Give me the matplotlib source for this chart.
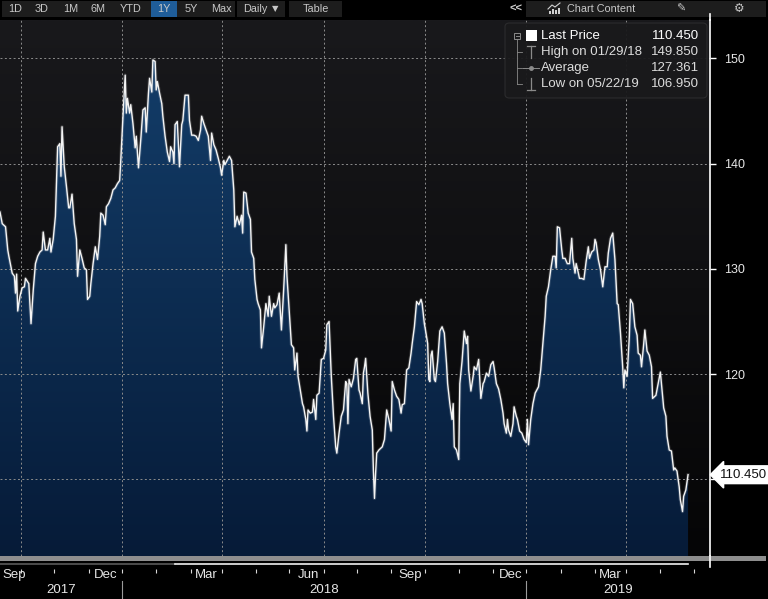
import numpy as np
import matplotlib
matplotlib.use("Agg")
import matplotlib.pyplot as plt
import matplotlib.dates as mdates
import matplotlib.transforms as mtransforms
from matplotlib.patches import Rectangle, FancyBboxPatch
from matplotlib.lines import Line2D
from matplotlib.colors import LinearSegmentedColormap
from matplotlib.ticker import FixedLocator

plt.rcParams['font.family'] = ['Liberation Sans', 'DejaVu Sans']

# ---------------- data ----------------
START = np.datetime64('2017-08-13')

day_offsets = [
    0, 2, 5, 7, 8, 11, 13, 14, 15, 16, 18, 20, 22, 23, 26, 28, 30, 32, 34, 36,
    38, 39, 41, 43, 45, 46, 48, 50, 52, 54, 55, 56, 58, 60, 62, 63, 65, 67, 69, 70,
    72, 74, 76, 78, 79, 81, 82, 84, 86, 88, 90, 91, 93, 95, 96, 98, 100, 102, 104, 106,
    108, 109, 111, 113, 114, 115, 117, 118, 120, 122, 123, 125, 127, 129, 131, 132, 134, 135, 137, 138,
    140, 141, 142, 144, 146, 147, 149, 151, 153, 154, 156, 157, 158, 160,
    162, 164, 165, 167, 170, 171, 173, 175, 177, 179, 181, 182, 184, 186, 188, 190, 191, 193, 195, 197,
    199, 200, 202, 203, 205, 207, 209, 211, 212, 214, 216, 218, 219, 220, 222, 224, 226, 227, 229, 230,
    232, 233, 235, 236, 238, 240, 242, 243, 245, 247, 248, 250, 252, 254, 256, 258, 259, 261, 263, 265,
    266, 268, 269, 271, 273, 274, 276, 277, 278, 280, 282, 283, 285, 286, 288, 290, 292, 294, 295, 297,
    299, 301, 303, 304, 306, 308, 310, 312, 313,
    314, 315, 317, 319, 321, 322, 324, 325, 327, 328, 329, 330, 332, 334, 336, 337, 338, 339, 340, 342,
    344, 345, 347, 349, 351, 353, 354, 356, 358, 360, 362, 363, 365, 367, 369, 371, 372, 374, 376, 378,
    380, 381, 383, 384, 386, 387, 388, 389, 390, 392, 393, 395, 397, 399, 401, 403, 404, 406, 408, 409,
    410, 412, 414, 415, 417, 419, 421, 422, 423, 425, 427, 428, 430, 432, 434, 436, 437, 439, 441, 443,
    445, 446, 448, 450, 452, 454, 455, 457, 458, 459, 461, 463, 464,
    466, 467, 469, 471, 473, 475, 476, 477, 479, 481, 483, 484, 486, 488, 490, 492, 493, 495, 497, 499,
    501, 502, 503, 505, 507, 508, 510, 512, 514, 516, 517, 519, 520, 522, 523, 525, 527, 529, 531, 532,
    534, 536, 537, 538, 540, 542, 544, 546, 548, 549, 551, 553, 555, 557, 558, 560, 562, 563, 564, 566,
    568, 569, 571, 573, 575, 576, 578, 579, 581, 582, 584, 586, 588, 589, 591, 592, 594, 596, 597, 599,
    601, 602, 604, 606, 608, 609, 611, 613, 614, 616, 617, 619, 621,
]

prices = [
    135.4, 134.3, 134.0, 131.8, 131.2, 129.6, 129.3, 127.7, 129.5, 126.0,
    127.4, 128.2, 128.3, 129.1, 128.6, 124.8, 128.0, 130.5, 131.2, 131.6,
    131.8, 133.5, 131.8, 131.8, 132.9, 131.6, 132.8, 135.0, 141.6, 141.9,
    138.8, 143.5, 139.7, 137.8, 135.8, 135.8, 137.1, 134.3, 132.8, 129.3,
    131.8, 131.0, 130.1, 129.9, 127.1, 127.4, 128.6, 130.5, 132.1, 130.9,
    133.1, 135.3, 135.1, 134.2, 135.9, 136.2, 136.7, 137.5, 137.7, 138.1,
    138.4, 140.3, 144.5, 148.4, 144.8, 146.2, 144.8, 145.6, 143.8, 141.5,
    142.6, 139.6, 142.2, 145.1, 145.3, 143.0, 146.7, 148.1, 146.8, 149.85,
    149.7, 147.0, 147.8, 146.7, 145.7, 144.5, 142.6, 141.1, 140.2, 141.6,
    141.1, 140.0, 143.7, 144.0,
    139.7, 143.7, 144.1, 146.5, 146.5, 144.1, 142.7, 142.7, 142.6, 142.2,
    143.2, 144.5, 143.8, 143.2, 142.6, 140.3, 142.9, 141.8, 141.3, 140.5,
    139.6, 138.9, 140.3, 139.9, 140.3, 140.7, 140.3, 137.5, 134.0, 135.0,
    134.2, 135.1, 133.4, 137.3, 137.2, 135.3, 134.7, 131.6, 131.0, 129.0,
    127.1, 126.7, 126.1, 122.5, 124.5, 126.7, 125.5, 127.4, 125.5, 126.7,
    126.3, 126.6, 127.7, 124.2, 128.0, 132.3, 129.3, 126.1, 122.8, 122.5,
    120.4, 122.0, 119.8, 118.5, 117.2, 116.9, 115.7, 114.6, 116.6, 116.3,
    116.4, 117.6, 115.7, 118.0, 118.2, 121.4, 121.5, 122.3, 124.7, 125.0,
    119.8, 116.0, 113.1, 112.5, 114.4, 116.0, 116.6, 119.3, 119.1,
    115.3, 119.5, 118.8, 119.6, 121.4, 121.5, 118.5, 118.2, 117.2, 120.1,
    120.7, 121.5, 118.2, 116.0, 114.7, 110.9, 108.2, 110.6, 112.5, 112.8,
    113.0, 113.1, 113.8, 116.6, 115.7, 114.6, 119.3, 118.5, 117.9, 117.6,
    116.3, 117.1, 117.2, 120.4, 120.6, 122.0, 122.9, 124.5, 126.9, 126.6,
    127.1, 126.7, 124.8, 124.2, 122.9, 119.5, 119.3, 121.8, 122.2, 119.5,
    119.3, 121.2, 124.1, 124.5, 123.9, 121.0, 119.1, 117.2, 115.7, 117.2,
    113.1, 112.8, 111.9, 119.1, 121.2, 124.1, 122.9, 123.6, 120.4, 118.4,
    119.8, 120.7, 120.4, 121.4, 117.7, 119.1, 119.3, 120.1, 119.8, 120.9,
    121.2, 120.6, 119.1, 118.6, 117.6, 116.3, 115.3, 114.4, 115.7, 114.7,
    114.1, 115.3, 116.9,
    116.0, 115.7, 114.6, 114.4, 113.8, 113.5, 115.7, 113.3, 115.7, 117.2,
    118.2, 118.4, 118.8, 120.4, 122.9, 125.5, 127.4, 128.3, 129.9, 131.2,
    131.2, 130.1, 134.0, 133.9, 131.8, 131.0, 131.0, 130.5, 130.5, 132.9,
    131.0, 129.6, 130.5, 129.6, 129.1, 129.1, 129.0, 130.7, 132.1, 131.0,
    131.6, 131.8, 132.8, 132.5, 130.9, 129.9, 128.3, 130.2, 130.2, 131.5,
    132.9, 133.4, 130.9, 126.7, 126.6, 123.9, 120.7, 118.7, 120.4, 119.8,
    123.6, 127.1, 126.7, 124.5, 123.7, 122.0, 121.8, 120.7, 122.9, 124.2,
    122.2, 121.8, 120.7, 117.7, 117.9, 118.0, 119.1, 120.2, 119.1, 116.8,
    116.0, 114.1, 112.8, 112.7, 110.9, 111.1, 110.8, 109.3, 108.1, 106.95,
    108.4, 109.0, 110.45,
]

last_price = 110.450
stats_labels = ["Last Price", "High on 01/29/18", "Average", "Low on 05/22/19"]
stats_values = [110.450, 149.850, 127.361, 106.950]
y_ticks = [110, 120, 130, 140, 150]
range_buttons = ["1D", "3D", "1M", "6M", "YTD", "1Y", "5Y", "Max"]
range_button_x = [15, 42, 71, 98, 131, 164, 191, 221]
year_breaks = ['2017-12-01', '2018-12-01']
years = ["2017", "2018", "2019"]

# ---------------- figure ----------------
W, H = 768, 599
fig = plt.figure(figsize=(W / 100, H / 100), dpi=100, facecolor='black')


def fx(px):
    return px / W


def fy(py):
    return 1 - py / H


AX_TOP, AX_BOT, AX_RIGHT = 20, 556, 710
ax = fig.add_axes([0, fy(AX_BOT), fx(AX_RIGHT), (AX_BOT - AX_TOP) / H])
ax.set_facecolor('#0d0d0f')

dates = START + np.array(day_offsets).astype('timedelta64[D]')
xnum = mdates.date2num(dates)
x0 = mdates.date2num(START)
XLIM = (x0, x0 + 640.8)
YLIM = (102.73, 153.64)
ext = [XLIM[0], XLIM[1], YLIM[0], YLIM[1]]
px_per_day = AX_RIGHT / (XLIM[1] - XLIM[0])

grad = np.linspace(0, 1, 256).reshape(-1, 1)
bg_cmap = LinearSegmentedColormap.from_list('bg', ['#19191c', '#050506'])
ax.imshow(grad, cmap=bg_cmap, aspect='auto', extent=ext, origin='upper', zorder=0)

poly = ax.fill_between(xnum, prices, YLIM[0], facecolor='none', edgecolor='none')
fill_cmap = LinearSegmentedColormap.from_list('fill', ['#143f6c', '#061b38'])
im = ax.imshow(grad, cmap=fill_cmap, aspect='auto', extent=ext, origin='upper', zorder=1)
im.set_clip_path(poly.get_paths()[0], transform=ax.transData)

ax.plot(xnum, prices, color='white', lw=2.4, alpha=0.15, zorder=3, solid_joinstyle='round')
ax.plot(xnum, prices, color='#f4f4f4', lw=1.0, zorder=3, solid_joinstyle='round')

ax.set_xlim(*XLIM)
ax.set_ylim(*YLIM)

# grid & ticks
ax.xaxis.set_major_locator(mdates.MonthLocator(bymonth=[3, 6, 9, 12]))
ax.xaxis.set_minor_locator(mdates.MonthLocator())
ax.yaxis.set_major_locator(FixedLocator(y_ticks))
ax.grid(True, which='major', color='#8c8c8c', linestyle=(0, (2, 2.5)), linewidth=0.7)
ax.yaxis.tick_right()
ax.tick_params(axis='y', which='major', direction='out', length=4, width=1,
               color='white', labelcolor='#e6e6e6', labelsize=9, pad=6)
ax.tick_params(axis='x', which='both', direction='out', length=3, width=0.8,
               color='#d8d8d8', labelbottom=False)
for s in ['top', 'left']:
    ax.spines[s].set_visible(False)
ax.spines['right'].set_color('white')
ax.spines['right'].set_linewidth(1.2)
ax.spines['bottom'].set_position(('outward', 9))
ax.spines['bottom'].set_linewidth(0)

# extension of right axis line
fig.add_artist(Line2D([fx(AX_RIGHT), fx(AX_RIGHT)], [fy(AX_BOT), fy(567)],
                      color='white', lw=1.2, transform=fig.transFigure))
fig.add_artist(Line2D([fx(AX_RIGHT), fx(AX_RIGHT)], [fy(14), fy(AX_TOP)],
                      color='white', lw=1.2, transform=fig.transFigure))

# scrollbar band
fig.add_artist(Rectangle((fx(0), fy(561)), fx(766), (561 - 556) / H,
                         transform=fig.transFigure, fc='#8e8e8e', ec='none'))
fig.add_artist(Line2D([fx(0), fx(175)], [fy(563.5), fy(563.5)], color='#5a5a5a',
                      lw=1.2, transform=fig.transFigure))
fig.add_artist(Line2D([fx(175), fx(688)], [fy(563.5), fy(563.5)], color='#f0f0f0',
                      lw=1.2, transform=fig.transFigure))

# month labels (right aligned just left of their tick; clamped at the left edge)
btr = mtransforms.blended_transform_factory(ax.transData, fig.transFigure)
shift = mtransforms.ScaledTranslation(-4 / 100, 0, fig.dpi_scale_trans)
for loc in ax.xaxis.get_majorticklocs():
    if XLIM[0] <= loc <= XLIM[1]:
        name = mdates.num2date(loc).strftime('%b')
        if (loc - XLIM[0]) * px_per_day < 28:
            fig.text(fx(2), fy(575), name, ha='left', va='center', color='#e6e6e6',
                     fontsize=9.5)
        else:
            ax.text(loc, fy(575), name, transform=btr + shift,
                    ha='right', va='center', color='#e6e6e6', fontsize=9.5)

# years and separators
breaks = [XLIM[0]] + [mdates.date2num(np.datetime64(b)) for b in year_breaks] + [XLIM[1]]
for b in breaks[1:-1]:
    fig.add_artist(Line2D([b, b], [fy(581), fy(599)], color='#9a9a9a', lw=0.8, transform=btr))
for i, yr in enumerate(years):
    ax.text((breaks[i] + breaks[i + 1]) / 2, fy(590), yr, transform=btr,
            ha='center', va='center', color='#e6e6e6', fontsize=9.5)

# last price tag
ax.text(1.0, last_price, f'{last_price:.3f}',
        transform=mtransforms.blended_transform_factory(ax.transAxes, ax.transData)
        + mtransforms.ScaledTranslation(10 / 100, 0, fig.dpi_scale_trans),
        ha='left', va='center', color='#111111', fontsize=9.5, zorder=10, clip_on=False,
        bbox=dict(boxstyle='larrow,pad=0.22', fc='white', ec='white'))

# ---------------- legend box ----------------
fig.add_artist(FancyBboxPatch((fx(505), fy(98)), fx(707) - fx(505), (98 - 23) / H,
                              boxstyle='round,pad=0,rounding_size=0.006',
                              transform=fig.transFigure, fc='#1a1a1c', ec='#2c2c2e',
                              lw=0.8, alpha=0.95, zorder=5))
rows_y = [36, 52, 68, 84]
tree = '#8a8a8a'
fig.add_artist(Rectangle((fx(514), fy(39)), 6 / W, 6 / H, transform=fig.transFigure,
                         fc='none', ec=tree, lw=0.7, zorder=6))
fig.add_artist(Line2D([fx(515.5), fx(518.5)], [fy(36), fy(36)], color=tree, lw=0.7,
                      transform=fig.transFigure, zorder=6))
fig.add_artist(Line2D([fx(517), fx(517)], [fy(39), fy(84)], color=tree, lw=0.6,
                      transform=fig.transFigure, zorder=6))
for ry in rows_y[1:]:
    fig.add_artist(Line2D([fx(517), fx(522)], [fy(ry), fy(ry)], color=tree, lw=0.6,
                          transform=fig.transFigure, zorder=6))
fig.add_artist(Rectangle((fx(526), fy(41)), 11 / W, 11 / H, transform=fig.transFigure,
                         fc='white', ec='none', zorder=6))
# high icon
fig.add_artist(Line2D([fx(531), fx(531)], [fy(46), fy(58)], color=tree, lw=0.9,
                      transform=fig.transFigure, zorder=6))
fig.add_artist(Line2D([fx(527), fx(535)], [fy(46), fy(46)], color=tree, lw=0.9,
                      transform=fig.transFigure, zorder=6))
# average icon
fig.add_artist(Line2D([fx(523), fx(539)], [fy(68), fy(68)], color=tree, lw=0.7,
                      transform=fig.transFigure, zorder=6))
fig.add_artist(Line2D([fx(531)], [fy(68)], color=tree, marker='o', ms=2.5,
                      transform=fig.transFigure, zorder=6))
# low icon
fig.add_artist(Line2D([fx(531), fx(531)], [fy(78), fy(90)], color=tree, lw=0.9,
                      transform=fig.transFigure, zorder=6))
fig.add_artist(Line2D([fx(527), fx(535)], [fy(90), fy(90)], color=tree, lw=0.9,
                      transform=fig.transFigure, zorder=6))
for i, (lab, val) in enumerate(zip(stats_labels, stats_values)):
    col = 'white' if i == 0 else '#dcdcdc'
    fig.text(fx(541), fy(rows_y[i]), lab, ha='left', va='center', color=col,
             fontsize=9.5, zorder=7)
    fig.text(fx(699), fy(rows_y[i]), f'{val:.3f}', ha='right', va='center', color=col,
             fontsize=9.5, zorder=7)

# ---------------- toolbar ----------------
tb_fc = '#1d1d1d'
fig.add_artist(Rectangle((fx(2), fy(17)), 233 / W, 16 / H, transform=fig.transFigure,
                         fc=tb_fc, ec='none'))
fig.add_artist(Rectangle((fx(151), fy(17)), 26 / W, 16 / H, transform=fig.transFigure,
                         fc='#1f5d99', ec='none'))
fig.add_artist(Rectangle((fx(237), fy(17)), 48 / W, 16 / H, transform=fig.transFigure,
                         fc=tb_fc, ec='none'))
fig.add_artist(Rectangle((fx(289), fy(17)), 53 / W, 16 / H, transform=fig.transFigure,
                         fc=tb_fc, ec='none'))
for lab, bx in zip(range_buttons, range_button_x):
    fig.text(fx(bx), fy(9), lab, ha='center', va='center', color='#c8c8c8', fontsize=7.8)
fig.text(fx(243), fy(9), 'Daily', ha='left', va='center', color='#c8c8c8', fontsize=7.8)
fig.text(fx(275), fy(9), '▼', ha='center', va='center', color='#c8c8c8', fontsize=6,
         family=['DejaVu Sans'])
fig.text(fx(316), fy(9), 'Table', ha='center', va='center', color='#c8c8c8', fontsize=7.8)

fig.text(fx(516), fy(9), '<<', ha='center', va='center', color='#d0d0d0', fontsize=8,
         fontweight='bold')
fig.add_artist(Rectangle((fx(526), fy(17)), 240 / W, 16 / H, transform=fig.transFigure,
                         fc=tb_fc, ec='none'))
# chart icon
for k, hgt in enumerate([3, 5, 4, 6]):
    fig.add_artist(Rectangle((fx(549 + 3 * k), fy(14)), 2 / W, hgt / H,
                             transform=fig.transFigure, fc='#d0d0d0', ec='none'))
fig.add_artist(Line2D([fx(548), fx(552), fx(555), fx(560)], [fy(9), fy(5), fy(7), fy(3)],
                      color='#d0d0d0', lw=0.8, transform=fig.transFigure))
fig.text(fx(567), fy(9), 'Chart Content', ha='left', va='center', color='#c8c8c8',
         fontsize=7.8)
fig.text(fx(681), fy(9), '✎', ha='center', va='center', color='#c8c8c8', fontsize=8,
         family=['DejaVu Sans'])
fig.text(fx(739), fy(9), '⚙', ha='center', va='center', color='#c8c8c8', fontsize=8.5,
         family=['DejaVu Sans'])

fig.savefig('out.png', dpi=100, facecolor='black')
